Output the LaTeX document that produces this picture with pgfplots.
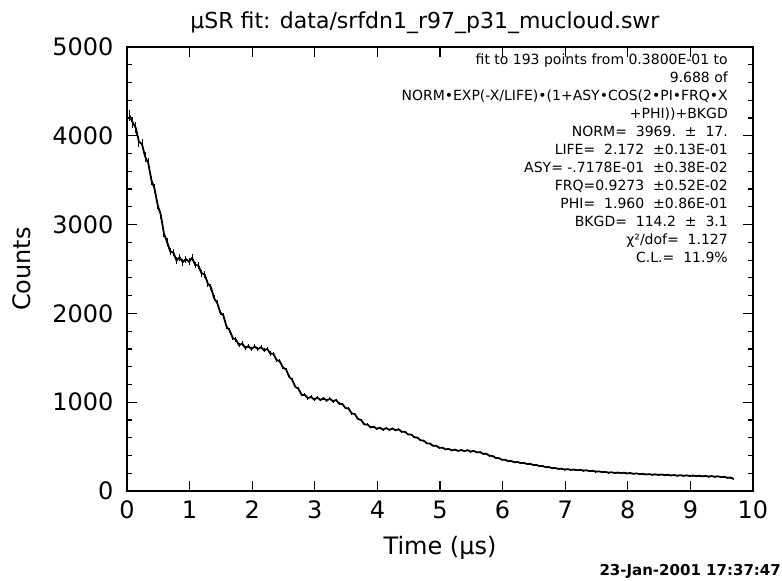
\documentclass[border=0pt]{standalone}
\usepackage{pgfplots}
\pgfplotsset{compat=1.18}
\usepackage{fontspec}
\setmainfont{DejaVu Sans}
\begin{document}
\begin{tikzpicture}
\path[use as bounding box] (-127pt,-90pt) rectangle (655pt,491pt);
\begin{axis}[
  at={(0pt,0pt)}, anchor=south west,
  scale only axis, width=626pt, height=444pt,
  xmin=0, xmax=10, ymin=0, ymax=5000,
  xtick={0,1,...,10}, ytick={0,1000,...,5000},
  minor y tick num=4,
  tick align=inside, tick pos=both,
  major tick length=10pt, minor tick length=5pt,
  axis line style={line width=1.6pt},
  every tick/.style={line width=1.2pt, black},
  scaled y ticks=false,
  /pgf/number format/assume math mode=true,
  /pgf/number format/1000 sep={},
  ticklabel style={font=\fontsize{24}{28}\selectfont},
  xticklabel style={yshift=-6pt},
  yticklabel style={xshift=-10pt},
]
\addplot[black, line width=1.8pt, no marks,
  error bars/.cd, y dir=both, y fixed relative=0.015, error mark=none,
  error bar style={line width=0.9pt}]
 coordinates {
(0.04,4230)(0.09,4150)(0.14,4090)(0.19,3935)(0.24,3905)(0.29,3765)(0.34,3690)(0.39,3500)(0.44,3405)(0.49,3220)
(0.54,3110)(0.59,2900)(0.64,2805)(0.69,2698)(0.74,2685)(0.79,2598)(0.84,2632)(0.89,2578)(0.94,2612)(0.99,2582)
(1.04,2625)(1.09,2545)(1.14,2540)(1.19,2452)(1.24,2440)(1.29,2338)(1.34,2296)(1.39,2172)(1.44,2120)(1.49,2010)
(1.54,1975)(1.59,1850)(1.64,1808)(1.69,1722)(1.74,1705)(1.79,1642)(1.84,1660)(1.89,1612)(1.94,1632)(1.99,1598)
(2.04,1630)(2.09,1596)(2.14,1620)(2.19,1584)(2.24,1600)(2.29,1548)(2.34,1545)(2.39,1475)(2.44,1462)(2.49,1392)
(2.54,1370)(2.59,1288)(2.64,1250)(2.69,1172)(2.74,1150)(2.79,1082)(2.84,1082)(2.89,1045)(2.94,1060)(2.99,1030)
(3.04,1052)(3.09,1024)(3.14,1045)(3.19,1018)(3.24,1040)(3.29,1010)(3.34,1025)(3.39,982)(3.44,980)(3.49,935)
(3.54,928)(3.59,874)(3.64,866)(3.69,810)(3.74,800)(3.79,750)(3.84,750)(3.89,716)(3.94,725)(3.99,700)
(4.04,713)(4.09,690)(4.14,708)(4.19,688)(4.24,704)(4.29,684)(4.34,694)(4.39,667)(4.44,668)(4.49,637)
(4.54,636)(4.59,605)(4.64,602)(4.69,571)(4.74,567)(4.79,537)(4.84,534)(4.89,509)(4.94,509)(4.99,486)
(5.04,488)(5.09,469)(5.14,474)(5.19,458)(5.24,466)(5.29,452)(5.34,462)(5.39,449)(5.44,460)(5.49,444)
(5.54,452)(5.59,435)(5.64,438)(5.69,418)(5.74,419)(5.79,397)(5.84,395)(5.89,373)(5.94,371)(5.99,351)
(6.04,352)(6.09,336)(6.14,337)(6.19,324)(6.24,327)(6.29,314)(6.34,317)(6.39,304)(6.44,306)(6.49,292)
(6.54,294)(6.59,280)(6.64,282)(6.69,268)(6.74,270)(6.79,257)(6.84,259)(6.89,249)(6.94,251)(6.99,242)
(7.04,246)(7.09,238)(7.14,242)(7.19,234)(7.24,238)(7.29,230)(7.34,233)(7.39,224)(7.44,227)(7.49,218)
(7.54,221)(7.59,212)(7.64,215)(7.69,207)(7.74,211)(7.79,203)(7.84,208)(7.89,201)(7.94,206)(7.99,198)
(8.04,202)(8.09,194)(8.14,198)(8.19,190)(8.24,194)(8.29,186)(8.34,190)(8.39,183)(8.44,188)(8.49,181)
(8.54,186)(8.59,178)(8.64,183)(8.69,175)(8.74,180)(8.79,173)(8.84,178)(8.89,171)(8.94,176)(8.99,169)
(9.04,174)(9.09,167)(9.14,172)(9.19,165)(9.24,170)(9.29,163)(9.34,168)(9.39,161)(9.44,165)(9.49,157)
(9.54,160)(9.59,150)(9.64,151)(9.69,137)
};
\end{axis}
\node[font=\fontsize{22}{26}\selectfont] at (298pt,468pt) {μSR fit: data/srfdn1\_r97\_p31\_mucloud.swr};
\node[rotate=90, font=\fontsize{24}{28}\selectfont] at (-105pt,222pt) {Counts};
\node[font=\fontsize{24}{28}\selectfont] at (313pt,-57pt) {Time (μs)};
\node[anchor=south east, inner sep=0pt, font=\bfseries\fontsize{15}{18}\selectfont] at (654pt,-88pt) {23-Jan-2001 17:37:47};
\node[anchor=north east, inner sep=0pt, align=right, font=\fontsize{14}{18}\selectfont] at (601pt,437pt) {%
fit to 193 points from 0.3800E-01 to\\
9.688 of\\
NORM•EXP(-X/LIFE)•(1+ASY•COS(2•PI•FRQ•X\\
+PHI))+BKGD\\
NORM=\ \ 3969.\ \ ±\ \ 17.\\
LIFE=\ \ 2.172\ \ ±0.13E-01\\
ASY= -.7178E-01\ \ ±0.38E-02\\
FRQ=0.9273\ \ ±0.52E-02\\
PHI=\ \ 1.960\ \ ±0.86E-01\\
BKGD=\ \ 114.2\ \ ±\ \ 3.1\\
χ²/dof=\ \ 1.127\\
C.L.=\ \ 11.9\%};
\end{tikzpicture}
\end{document}
